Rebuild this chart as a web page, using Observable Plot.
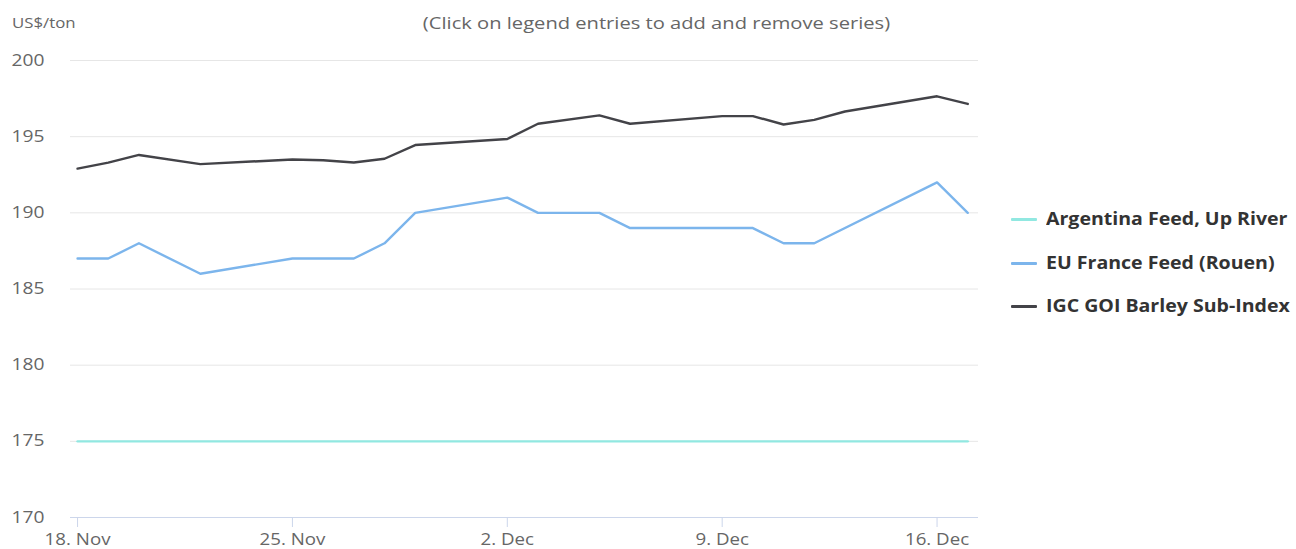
<!DOCTYPE html>
<html>
<head>
<meta charset="utf-8">
<script src="https://cdn.jsdelivr.net/npm/d3@7"></script>
<script src="https://cdn.jsdelivr.net/npm/@observablehq/plot@0.6"></script>
<style>
  html, body { margin: 0; padding: 0; background: #fff; }
  #wrap { position: relative; width: 1296px; height: 549px; font-family: "Open Sans", "DejaVu Sans", sans-serif; overflow: hidden; }
  #wrap svg { position: absolute; left: 0; top: 0; }
  .title { position: absolute; top: 11px; left: 0; width: 1312px; text-align: center; font-size: 16.5px; color: #666666; }
  .title span { display: inline-block; transform: scaleX(1.22); transform-origin: center center; }
  .unit { position: absolute; top: 13px; left: 12px; font-size: 14px; color: #666666; transform: scaleX(1.2); transform-origin: left center; }
  .legend { position: absolute; left: 1011px; top: 207px; }
  .item { position: relative; height: 43.5px; display: flex; align-items: flex-start; }
  .sym { width: 26px; height: 3px; margin-top: 11px; margin-right: 9px; border-radius: 1px; }
  .lab { font-size: 17px; font-weight: bold; color: #333333; line-height: 24px; transform: scaleX(1.15); transform-origin: left center; white-space: nowrap; }
</style>
</head>
<body>
<div id="wrap"></div>
<script>
const dates = ["2019-11-18","2019-11-19","2019-11-20","2019-11-22","2019-11-25","2019-11-26","2019-11-27","2019-11-28","2019-11-29","2019-12-02","2019-12-03","2019-12-05","2019-12-06","2019-12-09","2019-12-10","2019-12-11","2019-12-12","2019-12-13","2019-12-16","2019-12-17"];
const argentina = [175,175,175,175,175,175,175,175,175,175,175,175,175,175,175,175,175,175,175,175];
const france = [187,187,188,186,187,187,187,188,190,191,190,190,189,189,189,188,188,null,192,190];
const igc = [192.9,193.3,193.8,193.2,193.5,193.45,193.3,193.55,194.45,194.85,195.85,196.4,195.85,196.35,196.35,195.8,196.1,196.65,197.65,197.15];
const seriesNames = ["Argentina Feed, Up River", "EU France Feed (Rouen)", "IGC GOI Barley Sub-Index"];
const seriesColors = ["#91e8e1", "#7cb5ec", "#434348"];
const xTicks = ["2019-11-18","2019-11-25","2019-12-02","2019-12-09","2019-12-16"];
const yTicks = [170, 175, 180, 185, 190, 195, 200];

const values = [argentina, france, igc];
const rows = [];
values.forEach((arr, s) => arr.forEach((v, i) => {
  if (v != null) rows.push({date: new Date(dates[i]), value: v, series: seriesNames[s]});
}));

const day = 864e5;
const t0 = +new Date(dates[0]);
const chart = Plot.plot({
  width: 1296,
  height: 549,
  marginLeft: 70,
  marginRight: 318,
  marginTop: 60,
  marginBottom: 32,
  style: {fontFamily: "'Open Sans', 'DejaVu Sans', sans-serif", fontSize: "16px", color: "#666666", background: "transparent"},
  x: {type: "utc", domain: [new Date(t0 - 0.23 * day), new Date(t0 + 29.35 * day)]},
  y: {domain: [170, 200]},
  color: {domain: seriesNames, range: seriesColors},
  marks: [
    Plot.gridY(yTicks.filter(d => d > 170), {stroke: "#e6e6e6", strokeOpacity: 1, strokeWidth: 1}),
    Plot.axisY(yTicks, {tickSize: 0, tickPadding: 26, fill: "#666666", fontSize: 16, label: null}),
    Plot.ruleY([170], {stroke: "#ccd6eb", strokeWidth: 1}),
    Plot.axisX(xTicks.map(d => new Date(d)), {tickSize: 10, tickPadding: 6, stroke: "#ccd6eb", fill: "#666666", fontSize: 16, tickFormat: d3.utcFormat("%-d. %b"), label: null}),
    Plot.line(rows, {x: "date", y: "value", z: "series", stroke: "series", strokeWidth: 2.4, curve: "linear"})
  ]
});

function stretch(sel, s) {
  d3.select(chart).selectAll(sel).each(function() {
    let x = parseFloat(this.getAttribute("x"));
    if (!isFinite(x)) x = 0;
    const t = this.getAttribute("transform") || "";
    this.setAttribute("transform", `${t} translate(${x},0) scale(${s},1) translate(${-x},0)`);
  });
}
stretch('g[aria-label="y-axis tick label"] text', 1.2);
stretch('g[aria-label="x-axis tick label"] text', 1.17);

const wrap = document.getElementById("wrap");
wrap.appendChild(chart);

const title = document.createElement("div");
title.className = "title";
const ts = document.createElement("span");
ts.textContent = "(Click on legend entries to add and remove series)";
title.appendChild(ts);
wrap.appendChild(title);

const unit = document.createElement("div");
unit.className = "unit";
unit.textContent = "US$/ton";
wrap.appendChild(unit);

const legend = document.createElement("div");
legend.className = "legend";
seriesNames.forEach((n, i) => {
  const item = document.createElement("div");
  item.className = "item";
  const sym = document.createElement("div");
  sym.className = "sym";
  sym.style.background = seriesColors[i];
  const lab = document.createElement("div");
  lab.className = "lab";
  lab.textContent = n;
  item.appendChild(sym);
  item.appendChild(lab);
  legend.appendChild(item);
});
wrap.appendChild(legend);
</script>
</body>
</html>
